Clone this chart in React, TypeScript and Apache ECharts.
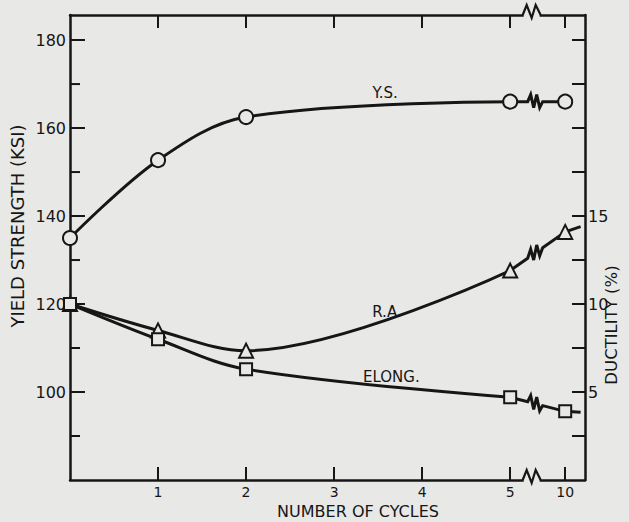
import React, { useEffect, useRef } from "react";
import * as echarts from "echarts";

// ---- data ----
const cycles = [0, 1, 2, 5, 10];
const yieldStrength = [135, 152.7, 162.5, 166, 166]; // ksi
const reductionArea = [10, 8.5, 7.35, 11.9, 14.1]; // %
const elongation = [10, 8, 6.3, 4.7, 3.9]; // %
// where each curve ends after the last point (axis units beyond "10")
const ysTail = [5.69, 166];
const raTail = [5.8, 14.4];
const elTail = [5.8, 3.85];

const xTickLabels = [1, 2, 3, 4, 5, 10];
const leftMajorTicks = [100, 120, 140, 160, 180];
const leftMinorTicks = [90, 110, 130, 150, 170];
const rightTicks = [2.5, 5, 7.5, 10, 12.5, 15, 17.5, 20, 22.5, 25];
const rightLabels = [5, 10, 15];

// broken axis: cycles above 5 are compressed
const xPos = (c: number) => (c <= 5 ? c : 5 + (c - 5) * 0.125);

const BG = "#e8e8e6";
const INK = "#161616";
const FONT = "DejaVu Sans";

export default function App() {
  const ref = useRef<HTMLDivElement>(null);
  useEffect(() => {
    document.body.style.margin = "0";
    const chart = echarts.init(ref.current!, null, { renderer: "svg" });
    const xMin = 0, xMax = 5.85;
    const yMin = 80, yMax = 185.7;
    const dMax = (yMax - 80) / 4;
    const tickVals = xTickLabels.map(xPos);
    const axisLine = { show: true, onZero: false, lineStyle: { color: INK, width: 2.5 } };
    const labelStyle = { color: INK, fontFamily: FONT, fontSize: 16 };

    const mainPts = (vals: number[]) =>
      cycles.filter((c) => c <= 5).map((c, i) => [xPos(c), vals[i]]);
    const lastIdx = cycles.length - 1;

    const hollow = { color: BG, borderColor: INK, borderWidth: 2 };
    const lineStyle = { color: INK, width: 3 };
    const tailData = (first: number[], tail: number[]) => [
      first,
      { value: tail, symbol: "none" },
    ];
    const SM = 0.35;

    const option: any = {
      animation: false,
      backgroundColor: BG,
      grid: { left: 70, right: 44, top: 15, bottom: 42 },
      xAxis: [
        {
          type: "value", min: xMin, max: xMax, position: "bottom",
          axisLine, splitLine: { show: false },
          axisTick: { show: true, inside: true, length: 13, customValues: tickVals, lineStyle: { color: INK, width: 2 } },
          axisLabel: {
            ...labelStyle, fontSize: 14, margin: 5, customValues: tickVals,
            formatter: (v: number) => {
              const i = tickVals.indexOf(v);
              return i >= 0 ? String(xTickLabels[i]) : "";
            },
          },
        },
        {
          type: "value", min: xMin, max: xMax, position: "top",
          axisLine, splitLine: { show: false },
          axisTick: { show: true, inside: true, length: 13, customValues: tickVals, lineStyle: { color: INK, width: 2 } },
          axisLabel: { show: false },
        },
      ],
      yAxis: [
        {
          type: "value", min: yMin, max: yMax, position: "left",
          axisLine, splitLine: { show: false },
          axisTick: { show: true, inside: true, length: 15, customValues: leftMajorTicks, lineStyle: { color: INK, width: 2 } },
          axisLabel: { ...labelStyle, margin: 4, customValues: leftMajorTicks },
        },
        {
          type: "value", min: 0, max: dMax, position: "right",
          axisLine, splitLine: { show: false },
          axisTick: { show: true, inside: true, length: 13, customValues: rightTicks, lineStyle: { color: INK, width: 2 } },
          axisLabel: { ...labelStyle, margin: 3, customValues: rightLabels },
        },
      ],
      series: [
        {
          name: "Y.S.", type: "line", smooth: SM, yAxisIndex: 0,
          data: mainPts(yieldStrength), symbol: "circle", symbolSize: 14,
          itemStyle: hollow, lineStyle, z: 3,
        },
        {
          name: "Y.S. after break", type: "line", yAxisIndex: 0,
          data: tailData([xPos(cycles[lastIdx]), yieldStrength[lastIdx]], ysTail),
          symbol: "circle", symbolSize: 14,
          itemStyle: hollow, lineStyle, z: 3,
        },
        {
          name: "R.A.", type: "line", smooth: SM, yAxisIndex: 1,
          data: mainPts(reductionArea), symbol: "triangle", symbolSize: 14,
          itemStyle: hollow, lineStyle, z: 3,
        },
        {
          name: "R.A. after break", type: "line", yAxisIndex: 1,
          data: tailData([xPos(cycles[lastIdx]), reductionArea[lastIdx]], raTail),
          symbol: "triangle", symbolSize: 14,
          itemStyle: hollow, lineStyle, z: 3,
        },
        {
          name: "ELONG.", type: "line", smooth: SM, yAxisIndex: 1,
          data: mainPts(elongation), symbol: "rect", symbolSize: 12,
          itemStyle: hollow, lineStyle, z: 4,
        },
        {
          name: "ELONG. after break", type: "line", yAxisIndex: 1,
          data: tailData([xPos(cycles[lastIdx]), elongation[lastIdx]], elTail),
          symbol: "rect", symbolSize: 12,
          itemStyle: hollow, lineStyle, z: 4,
        },
      ],
    };
    chart.setOption(option);

    // ---- breaks, drawn from the library's scales ----
    const px = (yAxisIndex: number, p: number[]) =>
      chart.convertToPixel({ xAxisIndex: 0, yAxisIndex }, p) as number[];
    const graphics: any[] = [];

    // minor ticks on the left axis
    leftMinorTicks.forEach((v) => {
      const p = px(0, [xMin, v]);
      graphics.push({
        type: "line", z: 10,
        shape: { x1: p[0], y1: p[1], x2: p[0] + 10, y2: p[1] },
        style: { stroke: INK, lineWidth: 2 },
      });
    });

    const zig = [[0, 0], [3, -7], [6, 6], [9, -7], [12, 6], [15, 0]];
    const brokenLine = (yAxisIndex: number, vals: number[]) => {
      const a = px(yAxisIndex, [xPos(5), vals[cycles.indexOf(5)]]);
      const b = px(yAxisIndex, [xPos(10), vals[lastIdx]]);
      const midX = (a[0] + b[0]) / 2 - 10;
      const yAt = (x: number) => a[1] + ((b[1] - a[1]) * (x - a[0])) / (b[0] - a[0]);
      const pts: number[][] = [a];
      zig.forEach(([dx, dy]) => pts.push([midX + dx, yAt(midX + dx) + dy]));
      pts.push(b);
      graphics.push({
        type: "polyline", z: 2, shape: { points: pts },
        style: { stroke: INK, lineWidth: 3, fill: null, lineJoin: "miter" },
      });
    };
    brokenLine(0, yieldStrength);
    brokenLine(1, reductionArea);
    brokenLine(1, elongation);

    // axis breaks
    const aBot = px(0, [xPos(5), yMin]);
    const bBot = px(0, [xPos(10), yMin]);
    const aTop = px(0, [xPos(5), yMax]);
    const mid = (aBot[0] + bBot[0]) / 2 - 15;
    const axZig = [[0, 0], [4, -10], [9, 3], [13, -10], [18, 0]];
    [[aBot[1]], [aTop[1]]].forEach(([yy]) => {
      graphics.push({
        type: "rect", z: 10,
        shape: { x: mid + 1, y: yy - 2, width: 16, height: 4 },
        style: { fill: BG },
      });
      graphics.push({
        type: "polyline", z: 11,
        shape: { points: axZig.map(([dx, dy]) => [mid + dx, yy + dy]) },
        style: { stroke: INK, lineWidth: 2.2, fill: null },
      });
    });

    // curve labels
    const notes = [
      { text: "Y.S.", axis: 0, at: [3.58, 168] },
      { text: "R.A.", axis: 1, at: [3.6, 9.55] },
      { text: "ELONG.", axis: 1, at: [3.65, 5.85] },
    ];
    notes.forEach((n) => {
      const p = px(n.axis, n.at);
      graphics.push({
        type: "text", z: 12, x: p[0], y: p[1],
        style: { text: n.text, fill: INK, font: `15px "${FONT}"`, align: "center", verticalAlign: "middle" },
      });
    });

    // axis titles
    graphics.push({
      type: "text", z: 12, x: 17, y: 226, rotation: Math.PI / 2,
      style: { text: "YIELD STRENGTH (KSI)", fill: INK, font: `18px "${FONT}"`, align: "center", verticalAlign: "middle" },
    });
    graphics.push({
      type: "text", z: 12, x: 611, y: 325, rotation: Math.PI / 2,
      style: { text: "DUCTILITY (%)", fill: INK, font: `16.5px "${FONT}"`, align: "center", verticalAlign: "middle" },
    });
    graphics.push({
      type: "text", z: 12, x: 358, y: 511,
      style: { text: "NUMBER OF CYCLES", fill: INK, font: `16px "${FONT}"`, align: "center", verticalAlign: "middle" },
    });

    chart.setOption({ graphic: graphics });
    return () => chart.dispose();
  }, []);
  return (
    <div
      ref={ref}
      style={{ position: "absolute", left: 0, top: 0, width: 629, height: 522 }}
    />
  );
}
